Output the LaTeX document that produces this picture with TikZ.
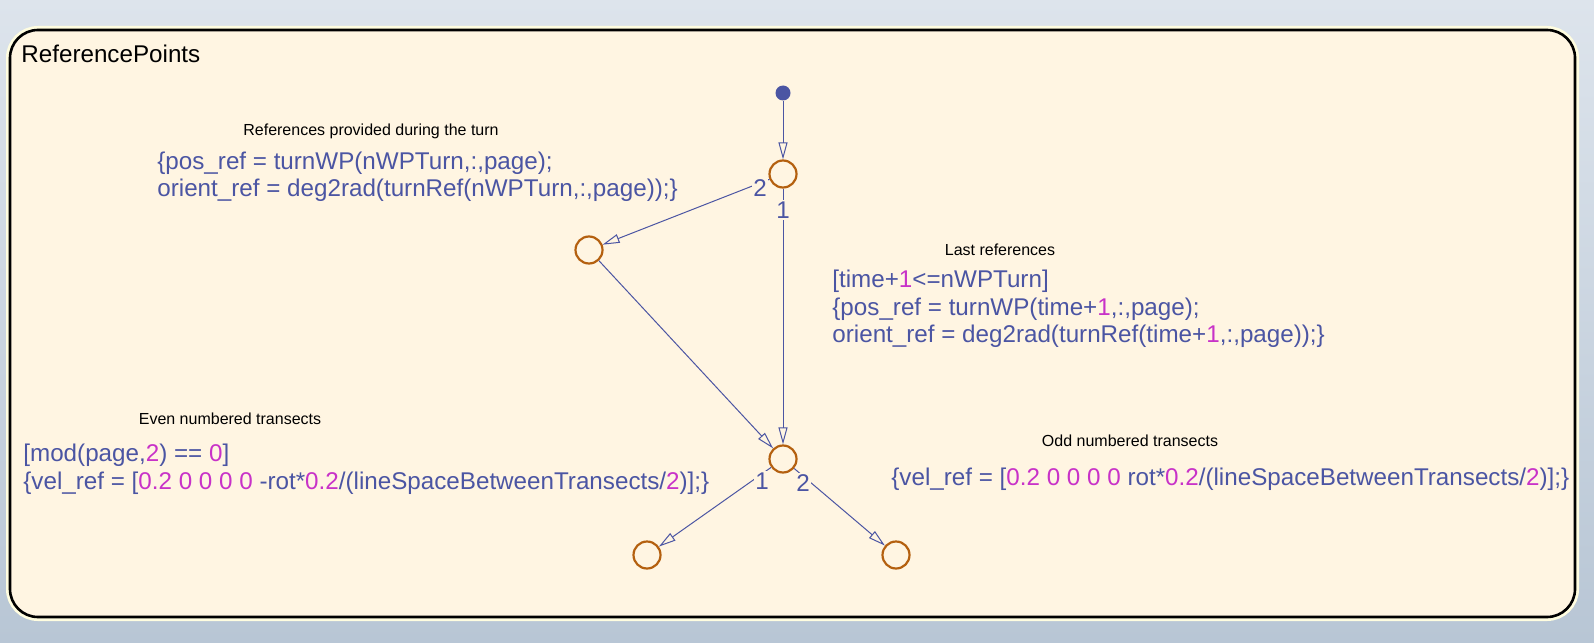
\documentclass[tikz,border=0pt]{standalone}
\usepackage{fontspec}
\setmainfont{Liberation Sans}
\usepackage{tikz}
\usetikzlibrary{positioning,arrows.meta}
\definecolor{sfBlue}{HTML}{4B55A3}
\definecolor{sfPink}{HTML}{C832C8}
\definecolor{sfOrange}{HTML}{B4600F}
\definecolor{sfCream}{HTML}{FFF5E2}
\definecolor{bgTop}{HTML}{DDE4EC}
\definecolor{bgBottom}{HTML}{B8C6D5}
\newcommand{\pk}[1]{\textcolor{sfPink}{#1}}
\tikzset {
    style J/.style={
        circle, % Set the shape as a circle
        draw=sfOrange,
        line width=1.1pt,
        minimum size=13.5pt,
        inner sep=0pt,
    },
    style S/.style={
        circle,
        fill=sfBlue,
        minimum size=7.5pt,
        inner sep=0pt,
    },
    style T/.style={
        text=sfBlue,
        font=\fontsize{12.1}{13.7}\selectfont,
        align=left,
        inner sep=0pt,
        anchor=north west,
    },
    style N/.style={
        text=black,
        font=\fontsize{8}{9.6}\selectfont,
        inner sep=0pt,
        anchor=base,
    },
    style L/.style={
        text=sfBlue,
        font=\fontsize{12.1}{13.7}\selectfont,
        fill=sfCream,
        inner sep=0.6pt,
    },
    style E/.style={
        draw=sfBlue,
        line width=0.5pt,
        -{Triangle[open, length=8.5pt, width=4.5pt]},
    },
}
\begin{document}
\begin{tikzpicture}
[x=0.5pt, y=-0.5pt, font=\fontsize{12.1}{13.7}\selectfont]
\shade[top color=bgTop, bottom color=bgBottom] (0,0) rectangle (1594,642);
\draw[line width=4pt, color=yellow!12!white, rounded corners=14pt] (10,30) rectangle (1575,617);
\draw[line width=1.3pt, fill=sfCream, rounded corners=14pt] (10,30) rectangle (1575,617);
\node[anchor=base west, inner sep=0pt] (title) at (21,63) {ReferencePoints};

\node[style S] (start) at (783,93) {};
\node[style J] (junctionTop) at (783,174) {};
\node[style J] (junctionLeft) at (589,250) {};
\node[style J] (junctionMid) at (783,459) {};
\node[style J] (junctionEven) at (647,555) {};
\node[style J] (junctionOdd) at (896,555) {};

\node[style N] (noteTurn) at (371,135) {References provided during the turn};
\node[style T] (actTurn) at (157,151.5) {\{pos\_ref = turnWP(nWPTurn,:,page);\\orient\_ref = deg2rad(turnRef(nWPTurn,:,page));\}};
\node[style N] (noteLast) at (1000,255) {Last references};
\node[style T] (actLast) at (832,270) {[time+\pk{1}<=nWPTurn]\\\{pos\_ref = turnWP(time+\pk{1},:,page);\\orient\_ref = deg2rad(turnRef(time+\pk{1},:,page));\}};
\node[style N] (noteEven) at (230,424) {Even numbered transects};
\node[style T] (actEven) at (23,444) {[mod(page,\pk{2}) == \pk{0}]\\\{vel\_ref = [\pk{0.2 0 0 0 0} -rot*\pk{0.2}/(lineSpaceBetweenTransects/\pk{2})];\}};
\node[style N] (noteOdd) at (1130,446) {Odd numbered transects};
\node[style T] (actOdd) at (891,467.7) {\{vel\_ref = [\pk{0.2 0 0 0 0} rot*\pk{0.2}/(lineSpaceBetweenTransects/\pk{2})];\}};

\draw[style E] (start) -- (junctionTop);
\draw[style E] (junctionTop) -- (junctionLeft);
\draw[style E] (junctionTop) -- (junctionMid);
\draw[style E] (junctionLeft) -- (junctionMid);
\draw[style E] (junctionMid) -- (junctionEven);
\draw[style E] (junctionMid) -- (junctionOdd);

\node[style L] (prioTopLeft) at (760,188) {2};
\node[style L] (prioTopDown) at (783,210) {1};
\node[style L] (prioMidEven) at (762,481) {1};
\node[style L] (prioMidOdd) at (803,483) {2};
\end{tikzpicture}
\end{document}
